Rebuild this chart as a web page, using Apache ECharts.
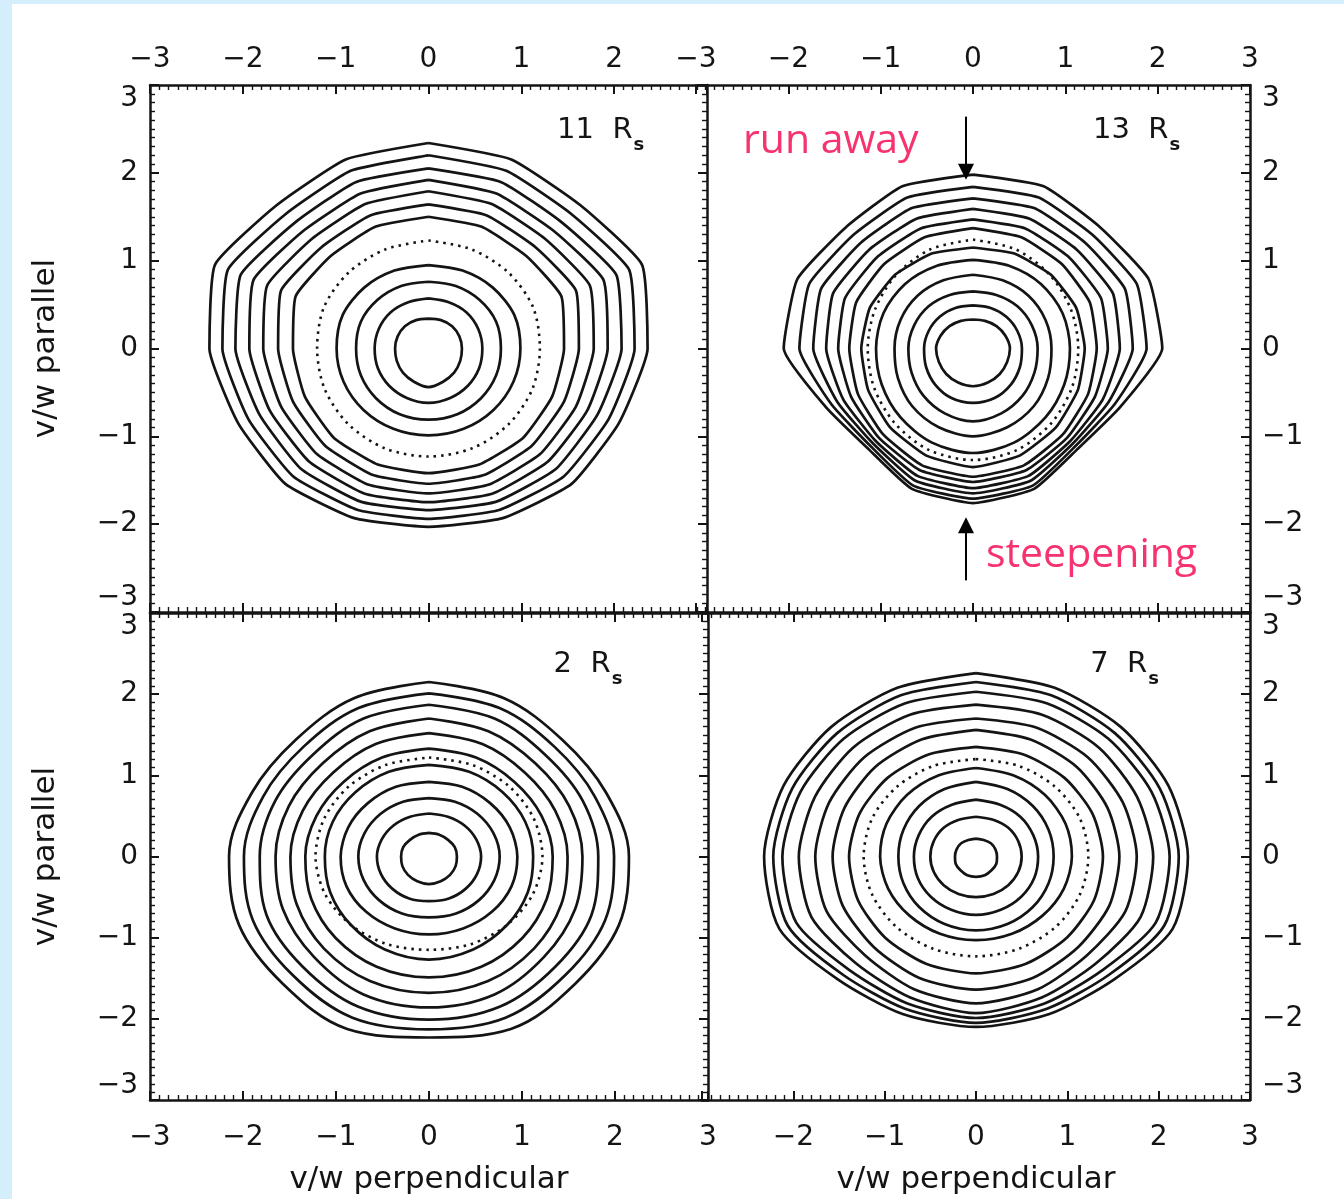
<!DOCTYPE html>
<html><head><meta charset="utf-8">
<script src="https://cdn.jsdelivr.net/npm/echarts@6/dist/echarts.min.js"></script>
<style>html,body{margin:0;padding:0;background:#d5eefc;} #c{width:1344px;height:1199px;}</style>
</head><body><div id="c"></div>
<script>
// ---- data (radii in v/w units) ----
// angles (deg) at which each contour's radius was read; left half is the mirror image
const ANGLES = [90, 67.5, 45, 22.5, 0, -22.5, -45, -67.5, -90];
const TICKS = [-3, -2, -1, 0, 1, 2, 3];

// 11 R_s (top left)
const rings11 = [
  [0.34, 0.35, 0.36, 0.36, 0.36, 0.37, 0.39, 0.41, 0.44],
  [0.57, 0.57, 0.58, 0.58, 0.58, 0.59, 0.60, 0.61, 0.62],
  [0.76, 0.77, 0.78, 0.79, 0.78, 0.79, 0.80, 0.81, 0.81],
  [0.95, 0.96, 0.98, 1.00, 0.99, 0.99, 0.99, 0.99, 0.99],
  [1.50, 1.50, 1.49, 1.55, 1.46, 1.44, 1.44, 1.43, 1.42],
  [1.64, 1.64, 1.63, 1.72, 1.62, 1.58, 1.57, 1.56, 1.54],
  [1.79, 1.78, 1.77, 1.88, 1.78, 1.72, 1.70, 1.68, 1.65],
  [1.92, 1.91, 1.90, 2.04, 1.93, 1.85, 1.82, 1.79, 1.75],
  [2.05, 2.05, 2.03, 2.19, 2.08, 1.97, 1.94, 1.89, 1.84],
  [2.20, 2.19, 2.17, 2.34, 2.22, 2.10, 2.06, 1.99, 1.94],
  [2.34, 2.33, 2.31, 2.49, 2.36, 2.22, 2.18, 2.09, 2.03]
];
const dotted11 = [1.23, 1.22, 1.22, 1.22, 1.20, 1.21, 1.22, 1.23, 1.23];

// 13 R_s (top right)
const rings13 = [
  [0.33, 0.34, 0.36, 0.38, 0.40, 0.40, 0.41, 0.42, 0.43],
  [0.49, 0.50, 0.51, 0.52, 0.53, 0.55, 0.58, 0.61, 0.62],
  [0.65, 0.66, 0.68, 0.69, 0.70, 0.72, 0.76, 0.80, 0.83],
  [0.84, 0.84, 0.85, 0.85, 0.85, 0.88, 0.93, 0.97, 1.00],
  [1.01, 1.02, 1.04, 1.05, 1.05, 1.07, 1.11, 1.16, 1.19],
  [1.15, 1.17, 1.19, 1.21, 1.21, 1.23, 1.27, 1.32, 1.35],
  [1.37, 1.37, 1.36, 1.37, 1.34, 1.35, 1.38, 1.44, 1.46],
  [1.47, 1.48, 1.47, 1.50, 1.46, 1.43, 1.44, 1.50, 1.52],
  [1.59, 1.60, 1.59, 1.64, 1.59, 1.52, 1.49, 1.57, 1.59],
  [1.71, 1.73, 1.71, 1.78, 1.73, 1.59, 1.53, 1.63, 1.65],
  [1.84, 1.86, 1.83, 1.92, 1.88, 1.66, 1.57, 1.69, 1.71],
  [1.98, 2.00, 1.95, 2.06, 2.05, 1.73, 1.61, 1.73, 1.76]
];
const dotted13 = [1.24, 1.22, 1.18, 1.15, 1.14, 1.16, 1.20, 1.25, 1.27];

// 2 R_s (bottom left)
const rings2 = [
  [0.29, 0.29, 0.29, 0.30, 0.30, 0.31, 0.32, 0.33, 0.34],
  [0.53, 0.53, 0.54, 0.55, 0.56, 0.56, 0.56, 0.56, 0.55],
  [0.72, 0.73, 0.74, 0.75, 0.76, 0.76, 0.76, 0.76, 0.75],
  [0.92, 0.93, 0.93, 0.94, 0.95, 0.96, 0.96, 0.96, 0.96],
  [1.13, 1.13, 1.12, 1.12, 1.12, 1.15, 1.19, 1.24, 1.27],
  [1.33, 1.32, 1.30, 1.31, 1.33, 1.37, 1.42, 1.47, 1.49],
  [1.52, 1.50, 1.46, 1.47, 1.49, 1.54, 1.60, 1.66, 1.68],
  [1.70, 1.67, 1.62, 1.63, 1.65, 1.70, 1.75, 1.84, 1.86],
  [1.87, 1.84, 1.77, 1.79, 1.82, 1.89, 1.92, 2.00, 2.01],
  [2.01, 1.98, 1.91, 1.93, 1.99, 2.05, 2.07, 2.15, 2.13],
  [2.15, 2.11, 2.03, 2.06, 2.15, 2.21, 2.22, 2.30, 2.23]
];
const dotted2 = [1.22, 1.22, 1.22, 1.22, 1.22, 1.21, 1.19, 1.17, 1.15];

// 7 R_s (bottom right)
const rings7 = [
  [0.22, 0.22, 0.23, 0.23, 0.23, 0.24, 0.24, 0.25, 0.25],
  [0.49, 0.49, 0.50, 0.50, 0.50, 0.50, 0.50, 0.50, 0.50],
  [0.70, 0.69, 0.69, 0.68, 0.68, 0.69, 0.70, 0.71, 0.72],
  [0.92, 0.90, 0.88, 0.86, 0.85, 0.86, 0.88, 0.90, 0.91],
  [1.09, 1.08, 1.07, 1.06, 1.05, 1.04, 1.03, 1.03, 1.03],
  [1.35, 1.36, 1.37, 1.38, 1.39, 1.40, 1.41, 1.43, 1.44],
  [1.56, 1.56, 1.56, 1.56, 1.57, 1.58, 1.58, 1.62, 1.64],
  [1.70, 1.72, 1.73, 1.74, 1.76, 1.77, 1.72, 1.77, 1.81],
  [1.87, 1.89, 1.90, 1.91, 1.94, 1.95, 1.86, 1.88, 1.93],
  [2.03, 2.04, 2.05, 2.08, 2.12, 2.13, 1.97, 1.96, 1.99],
  [2.15, 2.15, 2.15, 2.18, 2.22, 2.23, 2.06, 2.03, 2.05],
  [2.26, 2.25, 2.25, 2.28, 2.32, 2.33, 2.14, 2.10, 2.10]
];
const dotted7 = [1.20, 1.21, 1.22, 1.23, 1.23, 1.23, 1.23, 1.23, 1.23];

const panelNames = ['11', '13', '2', '7'];
// annotation anchors in data units of each panel
const titleAnchor = [[1.385, 2.48], [1.30, 2.48], [1.34, 2.37], [1.25, 2.37]];
const runAwayArrow = { x: -0.076, from: 2.64, to: 1.92 };
const steepArrow = { x: -0.076, from: -2.64, to: -1.92 };
const runAwayText = { x: -2.49, y: 2.36, text: 'run away' };
const steepText = { x: 0.14, y: -2.36, text: 'steepening' };

// ---- chart ----
const INK = '#141414';
const FONT = 'DejaVu Sans';
const PINK = '#f7336f';
const OUTER_SMOOTH = [0.15, 0.15, 0.35, 0.25];   // line rounding per panel (style only)
const INNER_SMOOTH = 0.3;
function fmt(v) { return v < 0 ? '\u2212' + Math.abs(v) : String(v); }

function ringPoints(r) {
  const pts = [];
  for (let i = 0; i < ANGLES.length; i++) {
    const a = ANGLES[i] * Math.PI / 180;
    pts.push([r[i] * Math.cos(a), r[i] * Math.sin(a)]);
  }
  for (let i = ANGLES.length - 2; i >= 0; i--) {
    const a = ANGLES[i] * Math.PI / 180;
    pts.push([-r[i] * Math.cos(a), r[i] * Math.sin(a)]);
  }
  return pts;
}

function makeAxis(dim, g, pos, o) {
  const a = {
    type: 'value', gridIndex: g, position: pos, min: TICKS[0], max: TICKS[TICKS.length - 1], interval: 1,
    show: o.show !== false,
    axisLine: { show: true, onZero: false, lineStyle: { color: INK, width: 2.5 } },
    axisTick: { show: true, inside: true, length: 9, lineStyle: { color: INK, width: 2 } },
    minorTick: { show: true, splitNumber: 10, length: 5, lineStyle: { color: INK, width: 1.4 } },
    splitLine: { show: false }, minorSplitLine: { show: false },
    axisLabel: {
      show: !!o.labels, margin: o.margin || 12, fontSize: 28, fontFamily: FONT, color: INK,
      formatter: fmt, showMinLabel: o.showMin !== false, showMaxLabel: o.showMax !== false
    }
  };
  if (dim === 'y' && o.labels) {
    a.axisLabel.verticalAlignMaxLabel = 'top';
    a.axisLabel.verticalAlignMinLabel = 'bottom';
  }
  if (o.name) {
    a.name = o.name; a.nameLocation = 'middle'; a.nameGap = o.nameGap;
    a.nameTextStyle = { fontSize: 31, fontFamily: FONT, color: INK };
  }
  return a;
}

const grids = [
  { left: 150, top: 85, width: 557, height: 527 },
  { left: 696, top: 85, width: 554, height: 527 },
  { left: 150, top: 613, width: 558, height: 487 },
  { left: 702, top: 613, width: 548, height: 487 }
].map(g => Object.assign({ containLabel: false, outerBoundsMode: 'none', show: false }, g));

const xAxis = [
  makeAxis('x', 0, 'bottom', {}),
  makeAxis('x', 0, 'top', { labels: true, showMax: false, margin: 11 }),
  makeAxis('x', 1, 'bottom', {}),
  makeAxis('x', 1, 'top', { labels: true, margin: 11 }),
  makeAxis('x', 2, 'bottom', { labels: true, margin: 24, name: 'v/w perpendicular', nameGap: 64 }),
  makeAxis('x', 2, 'top', {}),
  makeAxis('x', 3, 'bottom', { labels: true, showMin: false, margin: 24, name: 'v/w perpendicular', nameGap: 64 }),
  makeAxis('x', 3, 'top', {})
];
const yAxis = [
  makeAxis('y', 0, 'left', { labels: true, margin: 12, name: 'v/w parallel', nameGap: 89 }),
  makeAxis('y', 0, 'right', {}),
  makeAxis('y', 1, 'left', { show: false }),
  makeAxis('y', 1, 'right', { labels: true, margin: 12 }),
  makeAxis('y', 2, 'left', { labels: true, margin: 12, name: 'v/w parallel', nameGap: 89 }),
  makeAxis('y', 2, 'right', {}),
  makeAxis('y', 3, 'left', { show: false }),
  makeAxis('y', 3, 'right', { labels: true, margin: 12 })
];

const panels = [[rings11, dotted11], [rings13, dotted13], [rings2, dotted2], [rings7, dotted7]];
const series = [];
panels.forEach(([rings, dot], g) => {
  rings.forEach(r => {
    const inner = r[4] < 1.1;
    series.push({
      type: 'line', xAxisIndex: 2 * g, yAxisIndex: 2 * g, data: ringPoints(r),
      symbol: 'none', smooth: inner ? INNER_SMOOTH : OUTER_SMOOTH[g], silent: true, animation: false,
      lineStyle: { color: INK, width: 2.7 }
    });
  });
  series.push({
    type: 'line', xAxisIndex: 2 * g, yAxisIndex: 2 * g, data: ringPoints(dot),
    symbol: 'none', smooth: INNER_SMOOTH, silent: true, animation: false,
    lineStyle: { color: INK, width: 2.6, type: [2.5, 5] }
  });
});

const chart = echarts.init(document.getElementById('c'), null, { renderer: 'canvas', width: 1344, height: 1199 });
chart.setOption({
  backgroundColor: '#d5eefc',
  animation: false,
  grid: grids, xAxis: xAxis, yAxis: yAxis, series: series
});

// ---- annotations ----
const px = (g, x, y) => chart.convertToPixel({ xAxisIndex: 2 * g, yAxisIndex: 2 * g }, [x, y]);
const ctx = document.createElement('canvas').getContext('2d');
const graphics = [
  { type: 'rect', shape: { x: 12, y: 4, width: 1332, height: 1195 }, style: { fill: '#ffffff' }, z: -10, silent: true }
];
panelNames.forEach((n, g) => {
  const p = px(g, titleAnchor[g][0], titleAnchor[g][1]);
  const main = n + '  R';
  ctx.font = '29px "' + FONT + '"';
  const w = ctx.measureText(main).width;
  graphics.push({ type: 'text', x: p[0], y: p[1], z: 10, silent: true,
    style: { text: main, fontSize: 29, fontFamily: FONT, fill: INK, align: 'left', verticalAlign: 'middle' } });
  graphics.push({ type: 'text', x: p[0] + w + 1, y: p[1] + 15, z: 10, silent: true,
    style: { text: 's', fontSize: 18, fontFamily: FONT, fontWeight: 'bold', fill: INK, align: 'left', verticalAlign: 'middle' } });
});
function arrow(a) {
  const p1 = px(1, a.x, a.from), p2 = px(1, a.x, a.to);
  const dir = p2[1] > p1[1] ? 1 : -1;
  graphics.push({ type: 'line', z: 10, silent: true, shape: { x1: p1[0], y1: p1[1], x2: p2[0], y2: p2[1] - dir * 10 },
    style: { stroke: '#000', lineWidth: 2 } });
  graphics.push({ type: 'polygon', z: 10, silent: true,
    shape: { points: [[p2[0], p2[1]], [p2[0] - 8, p2[1] - dir * 16], [p2[0] + 8, p2[1] - dir * 16]] },
    style: { fill: '#000' } });
}
arrow(runAwayArrow);
arrow(steepArrow);
[runAwayText, steepText].forEach(t => {
  const p = px(1, t.x, t.y);
  graphics.push({ type: 'text', x: p[0], y: p[1], z: 10, silent: true,
    style: { text: t.text, fontSize: 41, fontFamily: 'Open Sans', fill: PINK, align: 'left', verticalAlign: 'middle' } });
});
chart.setOption({ graphic: graphics });
</script>
</body></html>
